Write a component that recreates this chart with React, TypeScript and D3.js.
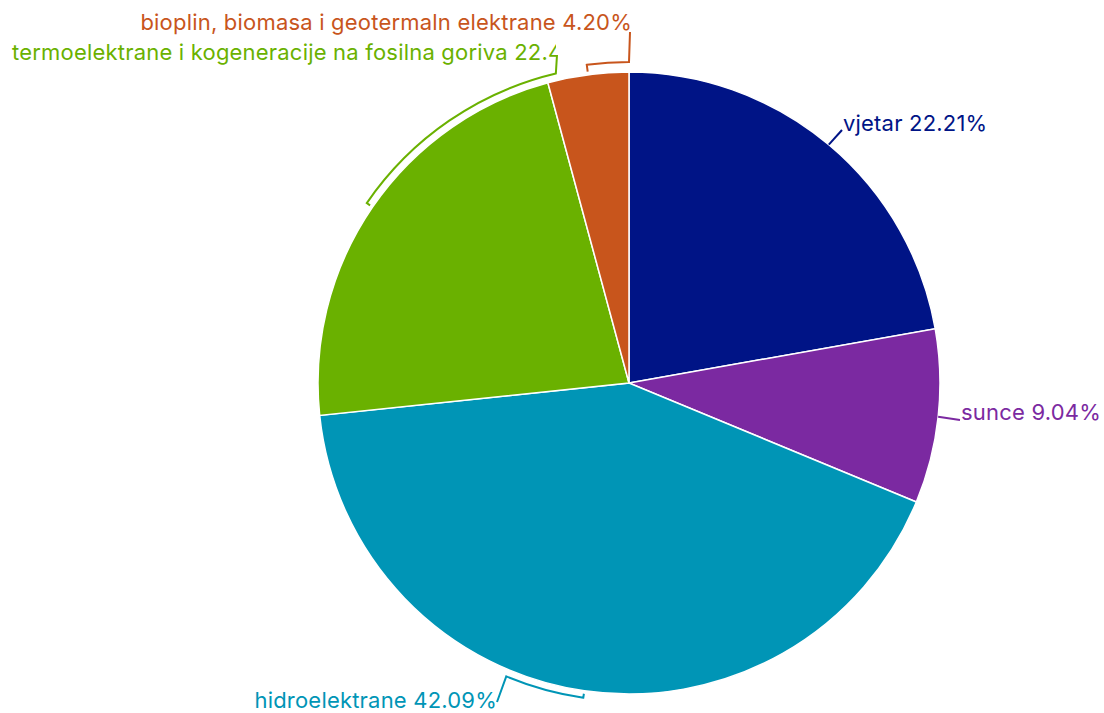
import React from "react";
import * as d3 from "d3";

const categories = [
  "vjetar",
  "sunce",
  "hidroelektrane",
  "termoelektrane i kogeneracije na fosilna goriva",
  "bioplin, biomasa i geotermaln elektrane",
];
const values = [22.21, 9.04, 42.09, 22.46, 4.2];
const colors = ["#001486", "#7b29a1", "#0095b6", "#6ab100", "#c8551c"];

const W = 1104;
const H = 713;
const CX = 629;
const CY = 383;
const R = 311;

type LabelLayout =
  | { kind: "line"; to: [number, number]; tx: number; ty: number; anchor: string }
  | {
      kind: "bracket";
      endDeg: number;
      br: number;
      to: [number, number];
      tx: number;
      ty: number;
      anchor: string;
      clipRight?: number;
    };

const layouts: LabelLayout[] = [
  { kind: "line", to: [842, 130], tx: 843, ty: 131, anchor: "start" },
  { kind: "line", to: [960, 420], tx: 961, ty: 420, anchor: "start" },
  { kind: "bracket", endDeg: 202.7, br: 318, to: [497, 702], tx: 497, ty: 708, anchor: "end" },
  { kind: "bracket", endDeg: 346.7, br: 318, to: [557, 55], tx: 12, ty: 60, anchor: "start", clipRight: 556 },
  { kind: "bracket", endDeg: 360, br: 321, to: [630, 32], tx: 632, ty: 30, anchor: "end" },
];

const pt = (a: number, r: number): [number, number] => [CX + r * Math.sin(a), CY - r * Math.cos(a)];

export default function App() {
  const pie = d3.pie<number>().sort(null).value((d) => d)(values);
  const arc = d3.arc<d3.PieArcDatum<number>>().innerRadius(0).outerRadius(R);
  const fmt = (v: number) => v.toFixed(2) + "%";

  return (
    <svg width={W} height={H} style={{ display: "block", position: "absolute", left: 0, top: 0 }}>
      <defs>
        <clipPath id="clipTermo">
          <rect x={0} y={0} width={556} height={H} />
        </clipPath>
      </defs>
      <g transform={`translate(${CX},${CY})`}>
        {pie.map((p, i) => (
          <path key={i} d={arc(p) || ""} fill={colors[i]} stroke="#fff" strokeWidth={1.5} />
        ))}
      </g>
      {pie.map((p, i) => {
        const L = layouts[i];
        const mid = (p.startAngle + p.endAngle) / 2;
        const label = `${categories[i]} ${fmt(values[i])}`;
        let path = "";
        if (L.kind === "line") {
          const [x0, y0] = pt(mid, R);
          path = `M${x0},${y0}L${L.to[0]},${L.to[1]}`;
        } else {
          const end = (L.endDeg * Math.PI) / 180;
          const [ix, iy] = pt(mid, R + 3);
          const [ax, ay] = pt(mid, L.br);
          const [ex, ey] = pt(end, L.br);
          const sweep = end > mid ? 1 : 0;
          path = `M${ix},${iy}L${ax},${ay}A${L.br},${L.br} 0 0 ${sweep} ${ex},${ey}L${L.to[0]},${L.to[1]}`;
        }
        return (
          <g key={"l" + i}>
            <path d={path} fill="none" stroke={colors[i]} strokeWidth={2} />
            <text
              x={L.tx}
              y={L.ty}
              textAnchor={L.anchor as any}
              fill={colors[i]}
              fontFamily="Inter, 'Noto Sans', sans-serif"
              fontSize={22}
              letterSpacing={0.2}
              clipPath={L.kind === "bracket" && L.clipRight ? "url(#clipTermo)" : undefined}
            >
              {label}
            </text>
          </g>
        );
      })}
    </svg>
  );
}
